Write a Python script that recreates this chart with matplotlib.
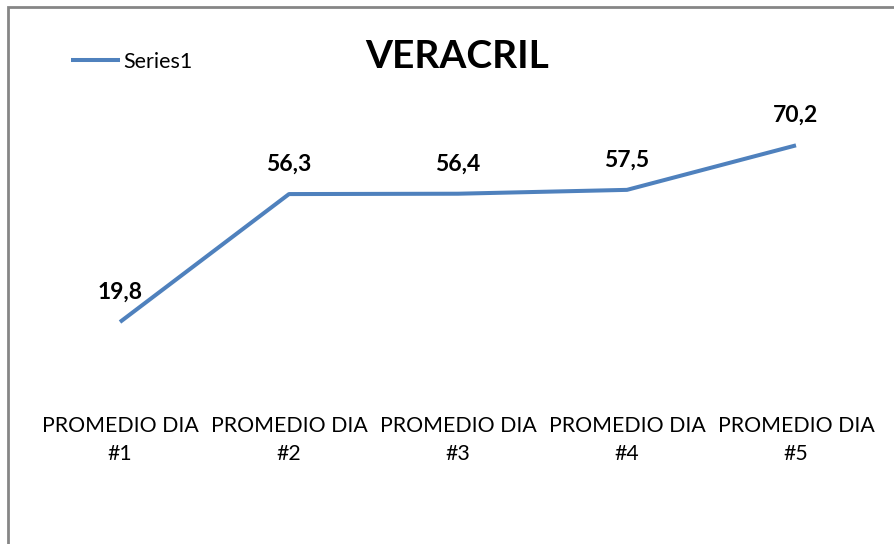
import matplotlib.pyplot as plt
from matplotlib.patches import Rectangle

# data
categories = ["PROMEDIO DIA\n#1", "PROMEDIO DIA\n#2", "PROMEDIO DIA\n#3",
              "PROMEDIO DIA\n#4", "PROMEDIO DIA\n#5"]
values = [19.8, 56.3, 56.4, 57.5, 70.2]
labels = ["19,8", "56,3", "56,4", "57,5", "70,2"]

W, H = 894, 544
plt.rcParams['font.family'] = ['Lato', 'DejaVu Sans']

fig = plt.figure(figsize=(W / 100, H / 100), dpi=100)

# gray chart border (right/bottom edges cropped in the original)
fig.patches.append(Rectangle((8 / W, -0.1), 1.2, 1 - 7 / H + 0.1,
                             transform=fig.transFigure, fill=False,
                             edgecolor="#868686", linewidth=2))

# plot area in pixel terms: y=0 at 391px, y=80 at 111px
ax = fig.add_axes([35.5 / W, (H - 391.4) / H, 845 / W, 280.4 / H])
ax.set_ylim(0, 80)
ax.set_xlim(-0.5, len(values) - 0.5)

x = list(range(len(values)))
ax.plot(x, values, color="#4F81BD", linewidth=2.9, label="Series1",
        solid_capstyle="butt")

for xi, v, lab in zip(x, values, labels):
    ax.annotate(lab, (xi, v), xytext=(0, 21.5), textcoords="offset points",
                ha="center", va="center", fontsize=16.5, fontweight="bold")

ax.set_xticks(x)
ax.set_xticklabels(categories, fontsize=15.3, linespacing=1.45)
ax.tick_params(axis="x", length=0, pad=18)
ax.set_yticks([])
for s in ax.spines.values():
    s.set_visible(False)

fig.text(457 / W, 1 - 56 / H, "VERACRIL", ha="center", va="center",
         fontsize=28, fontweight="bold")

ax.legend(loc="center left", bbox_to_anchor=(62 / W, 1 - 62 / H),
          bbox_transform=fig.transFigure, frameon=False, fontsize=15.5,
          handlelength=2.3, handletextpad=0.15, borderaxespad=0)

fig.savefig("out.png", dpi=100)
